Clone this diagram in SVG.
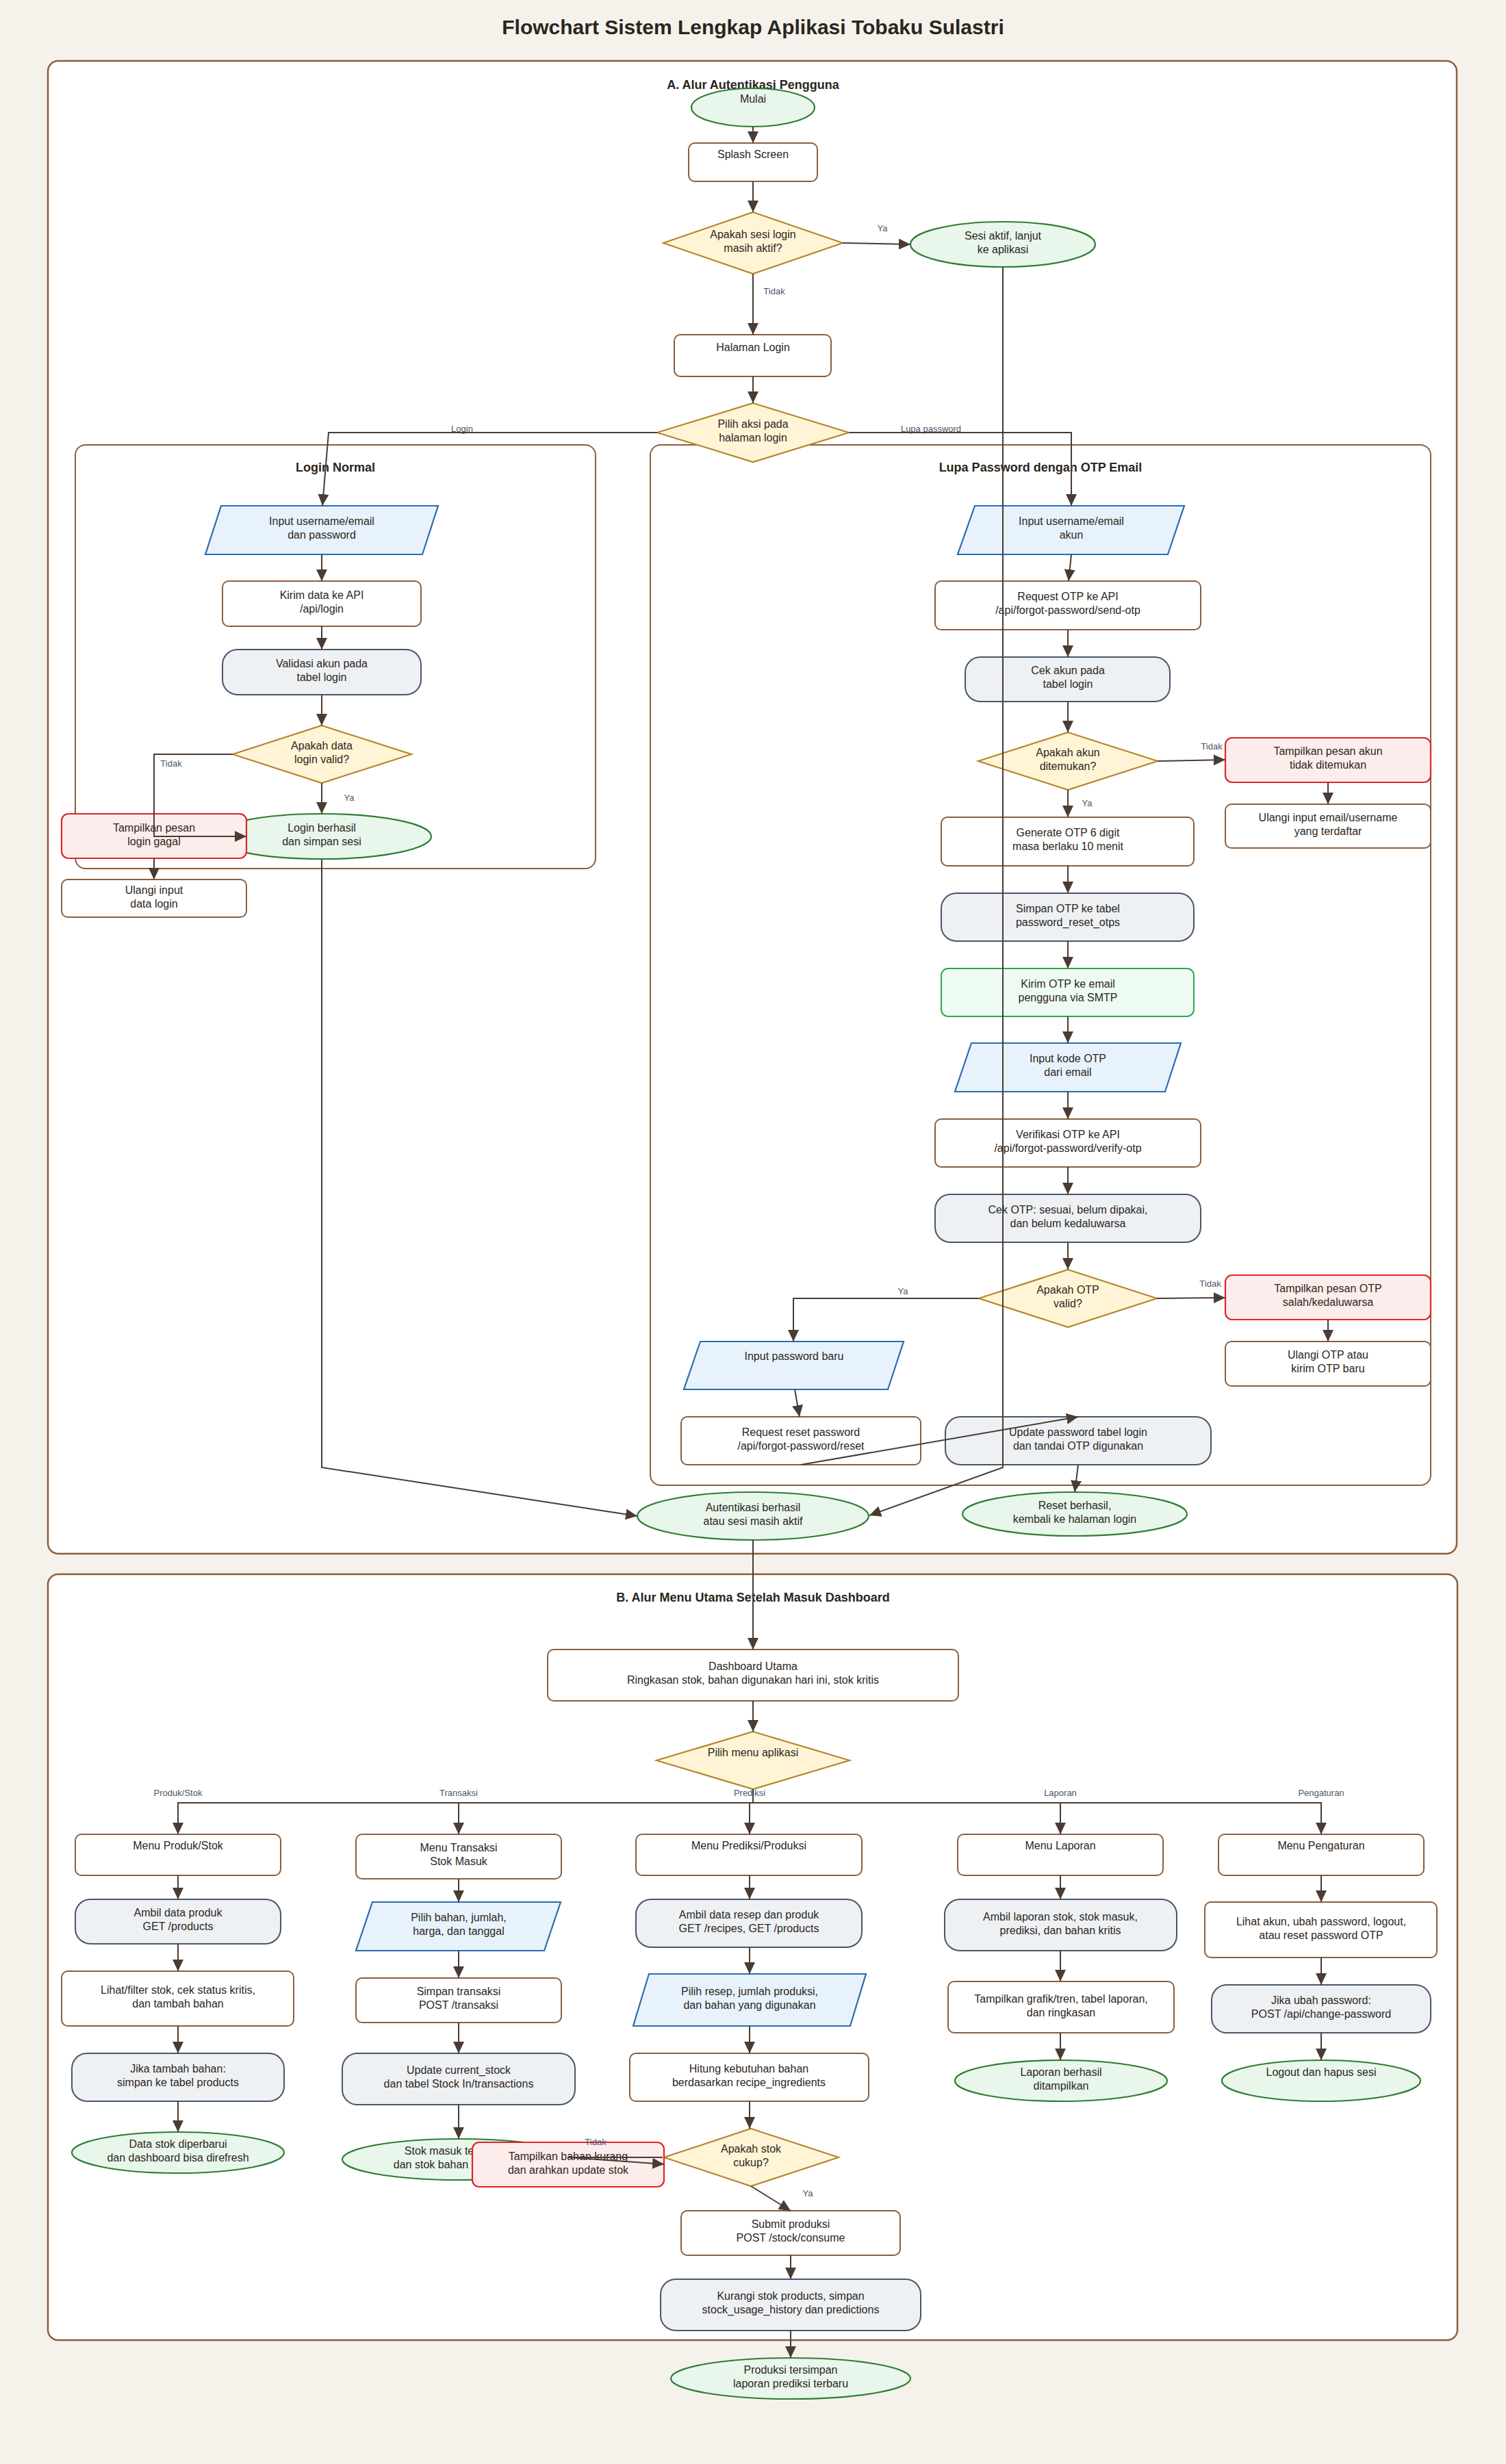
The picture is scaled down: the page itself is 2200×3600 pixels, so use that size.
<svg xmlns="http://www.w3.org/2000/svg" width="2200" height="3600" viewBox="0 0 2200 3600">
<defs>
<style>
.bg{fill:#F5F2EC}
.cont{fill:#FFFFFF;stroke:#8B5E3C;stroke-width:2.5}
.sub{fill:#FFFFFF;stroke:#8B5E3C;stroke-width:2}
.proc{fill:#FFFFFF;stroke:#8B5E3C;stroke-width:2}
.db{fill:#EEF1F4;stroke:#4A5568;stroke-width:2}
.io{fill:#E8F2FD;stroke:#2B6CB0;stroke-width:2.2}
.dec{fill:#FFF5D6;stroke:#B7862C;stroke-width:2.2}
.term{fill:#E9F6EC;stroke:#2E7D32;stroke-width:2.2}
.err{fill:#FDECEC;stroke:#DC2626;stroke-width:2.2}
.ok{fill:#EEFBF2;stroke:#2EAA4A;stroke-width:2}
text{font-family:"Liberation Sans",Arial,sans-serif}
.t{font-size:16px;fill:#2D2621;text-anchor:middle}
.title{font-size:30px;font-weight:bold;fill:#2B2520;text-anchor:middle}
.sec{font-size:18px;font-weight:bold;fill:#2B2520;text-anchor:middle}
.el{font-size:13px;fill:#4A5568;text-anchor:middle}
.edge{fill:none;stroke:#4A3B33;stroke-width:2;marker-end:url(#arr)}
</style>
<marker id="arr" markerUnits="userSpaceOnUse" markerWidth="18" markerHeight="16" refX="17" refY="8" orient="auto">
<path d="M0,0 L17,8 L0,16 z" fill="#4A3B33"/>
</marker>
</defs>
<rect class="bg" x="0" y="0" width="2200" height="3600"/>
<text class="title" x="1100" y="50">Flowchart Sistem Lengkap Aplikasi Tobaku Sulastri</text>

<g id="containers">
<rect class="cont" x="70" y="89" width="2058" height="2181" rx="15"/>
<text class="sec" x="1100" y="130">A. Alur Autentikasi Pengguna</text>
<rect class="sub" x="110" y="650" width="760" height="619" rx="15"/>
<text class="sec" x="490" y="689">Login Normal</text>
<rect class="sub" x="950" y="650" width="1140" height="1520" rx="15"/>
<text class="sec" x="1520" y="689">Lupa Password dengan OTP Email</text>
<rect class="cont" x="70" y="2300" width="2059" height="1119" rx="15"/>
<text class="sec" x="1100" y="2340">B. Alur Menu Utama Setelah Masuk Dashboard</text>
</g>

<g id="n_mulai"><ellipse class="term" cx="1100" cy="157" rx="90" ry="28"/><text class="t" x="1100" y="150">Mulai</text></g>
<g id="n_splash"><rect class="proc" x="1006" y="209" width="188" height="56" rx="9"/><text class="t" x="1100" y="231">Splash Screen</text></g>
<g id="n_sesi"><polygon class="dec" points="1100,310 1231,355 1100,400 969,355"/><text class="t" x="1100" y="348">Apakah sesi login</text><text class="t" x="1100" y="368">masih aktif?</text></g>
<g id="n_sesiaktif"><ellipse class="term" cx="1465" cy="357" rx="135" ry="33"/><text class="t" x="1465" y="350">Sesi aktif, lanjut</text><text class="t" x="1465" y="370">ke aplikasi</text></g>
<g id="n_halaman"><rect class="proc" x="985" y="489" width="229" height="61" rx="9"/><text class="t" x="1100" y="513">Halaman Login</text></g>
<g id="n_pilihaksi"><polygon class="dec" points="1100,589 1240,632 1100,675 960,632"/><text class="t" x="1100" y="625">Pilih aksi pada</text><text class="t" x="1100" y="645">halaman login</text></g>

<g id="n_input_login"><polygon class="io" points="323,739 640,739 617,810 300,810"/><text class="t" x="470" y="767">Input username/email</text><text class="t" x="470" y="787">dan password</text></g>
<g id="n_kirim_login"><rect class="proc" x="325" y="849" width="290" height="66" rx="9"/><text class="t" x="470" y="875">Kirim data ke API</text><text class="t" x="470" y="895">/api/login</text></g>
<g id="n_validasi"><rect class="db" x="325" y="949" width="290" height="66" rx="22"/><text class="t" x="470" y="975">Validasi akun pada</text><text class="t" x="470" y="995">tabel login</text></g>
<g id="n_valid"><polygon class="dec" points="470,1060 601,1102 470,1144 340,1102"/><text class="t" x="470" y="1095">Apakah data</text><text class="t" x="470" y="1115">login valid?</text></g>
<g id="n_loginok"><ellipse class="term" cx="470" cy="1222" rx="160" ry="33"/><text class="t" x="470" y="1215">Login berhasil</text><text class="t" x="470" y="1235">dan simpan sesi</text></g>
<g id="n_logingagal"><rect class="err" x="90" y="1189" width="270" height="65" rx="10"/><text class="t" x="225" y="1215">Tampilkan pesan</text><text class="t" x="225" y="1235">login gagal</text></g>
<g id="n_ulangilogin"><rect class="proc" x="90" y="1285" width="270" height="55" rx="9"/><text class="t" x="225" y="1306">Ulangi input</text><text class="t" x="225" y="1326">data login</text></g>

<g id="n_input_akun"><polygon class="io" points="1424,739 1730,739 1706,810 1399,810"/><text class="t" x="1565" y="767">Input username/email</text><text class="t" x="1565" y="787">akun</text></g>
<g id="n_reqotp"><rect class="proc" x="1366" y="849" width="388" height="71" rx="9"/><text class="t" x="1560" y="877">Request OTP ke API</text><text class="t" x="1560" y="897">/api/forgot-password/send-otp</text></g>
<g id="n_cekakun"><rect class="db" x="1410" y="960" width="299" height="65" rx="22"/><text class="t" x="1560" y="985">Cek akun pada</text><text class="t" x="1560" y="1005">tabel login</text></g>
<g id="n_akunada"><polygon class="dec" points="1560,1070 1691,1112 1560,1154 1429,1112"/><text class="t" x="1560" y="1105">Apakah akun</text><text class="t" x="1560" y="1125">ditemukan?</text></g>
<g id="n_akuntidak"><rect class="err" x="1790" y="1078" width="300" height="65" rx="10"/><text class="t" x="1940" y="1103">Tampilkan pesan akun</text><text class="t" x="1940" y="1123">tidak ditemukan</text></g>
<g id="n_ulangiakun"><rect class="proc" x="1790" y="1175" width="300" height="64" rx="9"/><text class="t" x="1940" y="1200">Ulangi input email/username</text><text class="t" x="1940" y="1220">yang terdaftar</text></g>
<g id="n_generate"><rect class="proc" x="1375" y="1194" width="369" height="71" rx="9"/><text class="t" x="1560" y="1222">Generate OTP 6 digit</text><text class="t" x="1560" y="1242">masa berlaku 10 menit</text></g>
<g id="n_simpanotp"><rect class="db" x="1375" y="1305" width="369" height="70" rx="22"/><text class="t" x="1560" y="1333">Simpan OTP ke tabel</text><text class="t" x="1560" y="1353">password_reset_otps</text></g>
<g id="n_kirimotp"><rect class="ok" x="1375" y="1415" width="369" height="70" rx="10"/><text class="t" x="1560" y="1443">Kirim OTP ke email</text><text class="t" x="1560" y="1463">pengguna via SMTP</text></g>
<g id="n_inputotp"><polygon class="io" points="1419,1524 1725,1524 1702,1595 1395,1595"/><text class="t" x="1560" y="1552">Input kode OTP</text><text class="t" x="1560" y="1572">dari email</text></g>
<g id="n_verifotp"><rect class="proc" x="1366" y="1635" width="388" height="70" rx="9"/><text class="t" x="1560" y="1663">Verifikasi OTP ke API</text><text class="t" x="1560" y="1683">/api/forgot-password/verify-otp</text></g>
<g id="n_cekotp"><rect class="db" x="1366" y="1745" width="388" height="70" rx="22"/><text class="t" x="1560" y="1773">Cek OTP: sesuai, belum dipakai,</text><text class="t" x="1560" y="1793">dan belum kedaluwarsa</text></g>
<g id="n_otpvalid"><polygon class="dec" points="1560,1855 1690,1897 1560,1939 1430,1897"/><text class="t" x="1560" y="1890">Apakah OTP</text><text class="t" x="1560" y="1910">valid?</text></g>
<g id="n_otpsalah"><rect class="err" x="1790" y="1863" width="300" height="65" rx="10"/><text class="t" x="1940" y="1888">Tampilkan pesan OTP</text><text class="t" x="1940" y="1908">salah/kedaluwarsa</text></g>
<g id="n_ulangiotp"><rect class="proc" x="1790" y="1960" width="300" height="65" rx="9"/><text class="t" x="1940" y="1985">Ulangi OTP atau</text><text class="t" x="1940" y="2005">kirim OTP baru</text></g>
<g id="n_inputpw"><polygon class="io" points="1023,1960 1320,1960 1297,2030 999,2030"/><text class="t" x="1160" y="1987">Input password baru</text></g>
<g id="n_reqreset"><rect class="proc" x="995" y="2070" width="350" height="70" rx="9"/><text class="t" x="1170" y="2098">Request reset password</text><text class="t" x="1170" y="2118">/api/forgot-password/reset</text></g>
<g id="n_updatepw"><rect class="db" x="1381" y="2070" width="388" height="70" rx="22"/><text class="t" x="1575" y="2098">Update password tabel login</text><text class="t" x="1575" y="2118">dan tandai OTP digunakan</text></g>
<g id="n_autentikasi"><ellipse class="term" cx="1100" cy="2215" rx="169" ry="35"/><text class="t" x="1100" y="2208">Autentikasi berhasil</text><text class="t" x="1100" y="2228">atau sesi masih aktif</text></g>
<g id="n_resetok"><ellipse class="term" cx="1570" cy="2212" rx="164" ry="32"/><text class="t" x="1570" y="2205">Reset berhasil,</text><text class="t" x="1570" y="2225">kembali ke halaman login</text></g>

<g id="n_dashboard"><rect class="proc" x="800" y="2410" width="600" height="75" rx="9"/><text class="t" x="1100" y="2440">Dashboard Utama</text><text class="t" x="1100" y="2460">Ringkasan stok, bahan digunakan hari ini, stok kritis</text></g>
<g id="n_pilihmenu"><polygon class="dec" points="1100,2530 1241,2572 1100,2614 959,2572"/><text class="t" x="1100" y="2566">Pilih menu aplikasi</text></g>

<g id="n_menuproduk"><rect class="proc" x="110" y="2680" width="300" height="60" rx="9"/><text class="t" x="260" y="2702">Menu Produk/Stok</text></g>
<g id="n_ambilproduk"><rect class="db" x="110" y="2775" width="300" height="65" rx="22"/><text class="t" x="260" y="2800">Ambil data produk</text><text class="t" x="260" y="2820">GET /products</text></g>
<g id="n_lihatstok"><rect class="proc" x="90" y="2880" width="339" height="80" rx="9"/><text class="t" x="260" y="2913">Lihat/filter stok, cek status kritis,</text><text class="t" x="260" y="2933">dan tambah bahan</text></g>
<g id="n_tambahbahan"><rect class="db" x="105" y="3000" width="310" height="70" rx="22"/><text class="t" x="260" y="3028">Jika tambah bahan:</text><text class="t" x="260" y="3048">simpan ke tabel products</text></g>
<g id="n_stokbaru"><ellipse class="term" cx="260" cy="3145" rx="155" ry="30"/><text class="t" x="260" y="3138">Data stok diperbarui</text><text class="t" x="260" y="3158">dan dashboard bisa direfresh</text></g>

<g id="n_menutransaksi"><rect class="proc" x="520" y="2680" width="300" height="65" rx="9"/><text class="t" x="670" y="2705">Menu Transaksi</text><text class="t" x="670" y="2725">Stok Masuk</text></g>
<g id="n_pilihbahan"><polygon class="io" points="544,2779 819,2779 795,2850 520,2850"/><text class="t" x="670" y="2807">Pilih bahan, jumlah,</text><text class="t" x="670" y="2827">harga, dan tanggal</text></g>
<g id="n_simpantrans"><rect class="proc" x="520" y="2890" width="300" height="65" rx="9"/><text class="t" x="670" y="2915">Simpan transaksi</text><text class="t" x="670" y="2935">POST /transaksi</text></g>
<g id="n_updatestok"><rect class="db" x="500" y="3000" width="340" height="75" rx="22"/><text class="t" x="670" y="3030">Update current_stock</text><text class="t" x="670" y="3050">dan tabel Stock In/transactions</text></g>
<g id="n_stokmasuk"><ellipse class="term" cx="670" cy="3155" rx="170" ry="30"/><text class="t" x="670" y="3148">Stok masuk tersimpan</text><text class="t" x="670" y="3168">dan stok bahan bertambah</text></g>

<g id="n_menuprediksi"><rect class="proc" x="929" y="2680" width="330" height="60" rx="9"/><text class="t" x="1094" y="2702">Menu Prediksi/Produksi</text></g>
<g id="n_ambilresep"><rect class="db" x="929" y="2775" width="330" height="70" rx="22"/><text class="t" x="1094" y="2803">Ambil data resep dan produk</text><text class="t" x="1094" y="2823">GET /recipes, GET /products</text></g>
<g id="n_pilihresep"><polygon class="io" points="948,2884 1265,2884 1242,2960 925,2960"/><text class="t" x="1095" y="2915">Pilih resep, jumlah produksi,</text><text class="t" x="1095" y="2935">dan bahan yang digunakan</text></g>
<g id="n_hitung"><rect class="proc" x="920" y="3000" width="349" height="70" rx="9"/><text class="t" x="1094" y="3028">Hitung kebutuhan bahan</text><text class="t" x="1094" y="3048">berdasarkan recipe_ingredients</text></g>
<g id="n_stokcukup"><polygon class="dec" points="1097,3110 1225,3152 1097,3194 970,3152"/><text class="t" x="1097" y="3145">Apakah stok</text><text class="t" x="1097" y="3165">cukup?</text></g>
<g id="n_bahankurang"><rect class="err" x="690" y="3130" width="280" height="65" rx="10"/><text class="t" x="830" y="3156">Tampilkan bahan kurang</text><text class="t" x="830" y="3176">dan arahkan update stok</text></g>
<g id="n_submit"><rect class="proc" x="995" y="3230" width="320" height="65" rx="9"/><text class="t" x="1155" y="3255">Submit produksi</text><text class="t" x="1155" y="3275">POST /stock/consume</text></g>
<g id="n_kurangi"><rect class="db" x="965" y="3330" width="380" height="75" rx="22"/><text class="t" x="1155" y="3360">Kurangi stok products, simpan</text><text class="t" x="1155" y="3380">stock_usage_history dan predictions</text></g>
<g id="n_produksiok"><ellipse class="term" cx="1155" cy="3475" rx="175" ry="30"/><text class="t" x="1155" y="3468">Produksi tersimpan</text><text class="t" x="1155" y="3488">laporan prediksi terbaru</text></g>

<g id="n_menulaporan"><rect class="proc" x="1399" y="2680" width="300" height="60" rx="9"/><text class="t" x="1549" y="2702">Menu Laporan</text></g>
<g id="n_ambillaporan"><rect class="db" x="1380" y="2775" width="339" height="75" rx="22"/><text class="t" x="1549" y="2806">Ambil laporan stok, stok masuk,</text><text class="t" x="1549" y="2826">prediksi, dan bahan kritis</text></g>
<g id="n_grafik"><rect class="proc" x="1385" y="2895" width="330" height="75" rx="9"/><text class="t" x="1550" y="2926">Tampilkan grafik/tren, tabel laporan,</text><text class="t" x="1550" y="2946">dan ringkasan</text></g>
<g id="n_laporanok"><ellipse class="term" cx="1550" cy="3040" rx="155" ry="30"/><text class="t" x="1550" y="3033">Laporan berhasil</text><text class="t" x="1550" y="3053">ditampilkan</text></g>

<g id="n_menupengaturan"><rect class="proc" x="1780" y="2680" width="300" height="60" rx="9"/><text class="t" x="1930" y="2702">Menu Pengaturan</text></g>
<g id="n_lihatakun"><rect class="proc" x="1760" y="2779" width="339" height="81" rx="9"/><text class="t" x="1930" y="2813">Lihat akun, ubah password, logout,</text><text class="t" x="1930" y="2833">atau reset password OTP</text></g>
<g id="n_ubahpw"><rect class="db" x="1770" y="2900" width="320" height="70" rx="22"/><text class="t" x="1930" y="2928">Jika ubah password:</text><text class="t" x="1930" y="2948">POST /api/change-password</text></g>
<g id="n_logout"><ellipse class="term" cx="1930" cy="3040" rx="145" ry="30"/><text class="t" x="1930" y="3033">Logout dan hapus sesi</text></g>

<g id="connectors">
<path class="edge" d="M1100,185 L1100,209"/>
<path class="edge" d="M1100,265 L1100,310"/>
<path class="edge" d="M1231,355 L1330,357"/>
<path class="edge" d="M1100,400 L1100,489"/>
<path class="edge" d="M1100,550 L1100,589"/>
<path class="edge" d="M960,632 L480,632 L471,739"/>
<path class="edge" d="M1240,632 L1565,632 L1565,739"/>
<path class="edge" d="M470,810 L470,849"/>
<path class="edge" d="M470,915 L470,949"/>
<path class="edge" d="M470,1015 L470,1060"/>
<path class="edge" d="M470,1144 L470,1189"/>
<path class="edge" d="M340,1102 L225,1102 L225,1222 L360,1222"/>
<path class="edge" d="M225,1254 L225,1285"/>
<path class="edge" d="M1565,810 L1561,849"/>
<path class="edge" d="M1560,920 L1560,960"/>
<path class="edge" d="M1560,1025 L1560,1070"/>
<path class="edge" d="M1691,1112 L1790,1110"/>
<path class="edge" d="M1940,1143 L1940,1175"/>
<path class="edge" d="M1560,1154 L1560,1194"/>
<path class="edge" d="M1560,1265 L1560,1305"/>
<path class="edge" d="M1560,1375 L1560,1415"/>
<path class="edge" d="M1560,1485 L1560,1524"/>
<path class="edge" d="M1560,1595 L1560,1635"/>
<path class="edge" d="M1560,1705 L1560,1745"/>
<path class="edge" d="M1560,1815 L1560,1855"/>
<path class="edge" d="M1690,1897 L1790,1896"/>
<path class="edge" d="M1940,1928 L1940,1960"/>
<path class="edge" d="M1430,1897 L1159,1897 L1159,1960"/>
<path class="edge" d="M1161,2030 L1168,2070"/>
<path class="edge" d="M1170,2140 L1575,2070"/>
<path class="edge" d="M1575,2140 L1570,2180"/>
<path class="edge" d="M1465,390 L1465,2144 L1270,2214"/>
<path class="edge" d="M470,1255 L470,2144 L931,2215"/>
<path class="edge" d="M1100,2250 L1100,2410"/>
<path class="edge" d="M1100,2485 L1100,2530"/>
<path class="edge" d="M1100,2614 L1100,2634 L260,2634 L260,2680"/>
<path class="edge" d="M1100,2614 L1100,2634 L670,2634 L670,2680"/>
<path class="edge" d="M1100,2614 L1100,2634 L1095,2634 L1095,2680"/>
<path class="edge" d="M1100,2614 L1100,2634 L1549,2634 L1549,2680"/>
<path class="edge" d="M1100,2614 L1100,2634 L1930,2634 L1930,2680"/>
<path class="edge" d="M260,2740 L260,2775"/>
<path class="edge" d="M260,2840 L260,2880"/>
<path class="edge" d="M260,2960 L260,3000"/>
<path class="edge" d="M260,3070 L260,3115"/>
<path class="edge" d="M670,2745 L670,2779"/>
<path class="edge" d="M670,2850 L670,2890"/>
<path class="edge" d="M670,2955 L670,3000"/>
<path class="edge" d="M670,3075 L670,3125"/>
<path class="edge" d="M1095,2740 L1095,2775"/>
<path class="edge" d="M1095,2845 L1095,2884"/>
<path class="edge" d="M1095,2960 L1095,3000"/>
<path class="edge" d="M1095,3070 L1095,3110"/>
<path class="edge" d="M968,3152 L830,3152 L970,3162"/>
<path class="edge" d="M1097,3194 L1155,3230"/>
<path class="edge" d="M1155,3295 L1155,3330"/>
<path class="edge" d="M1155,3405 L1155,3445"/>
<path class="edge" d="M1549,2740 L1549,2775"/>
<path class="edge" d="M1549,2850 L1549,2895"/>
<path class="edge" d="M1549,2970 L1549,3010"/>
<path class="edge" d="M1930,2740 L1930,2779"/>
<path class="edge" d="M1930,2860 L1930,2900"/>
<path class="edge" d="M1930,2970 L1930,3010"/>
<text class="el" x="1289" y="338">Ya</text>
<text class="el" x="1131" y="430">Tidak</text>
<text class="el" x="675" y="631">Login</text>
<text class="el" x="1360" y="631">Lupa password</text>
<text class="el" x="250" y="1120">Tidak</text>
<text class="el" x="510" y="1170">Ya</text>
<text class="el" x="1770" y="1095">Tidak</text>
<text class="el" x="1588" y="1178">Ya</text>
<text class="el" x="1768" y="1880">Tidak</text>
<text class="el" x="1319" y="1891">Ya</text>
<text class="el" x="260" y="2624">Produk/Stok</text>
<text class="el" x="670" y="2624">Transaksi</text>
<text class="el" x="1095" y="2624">Prediksi</text>
<text class="el" x="1549" y="2624">Laporan</text>
<text class="el" x="1930" y="2624">Pengaturan</text>
<text class="el" x="870" y="3134">Tidak</text>
<text class="el" x="1180" y="3209">Ya</text>
</g>
</svg>
